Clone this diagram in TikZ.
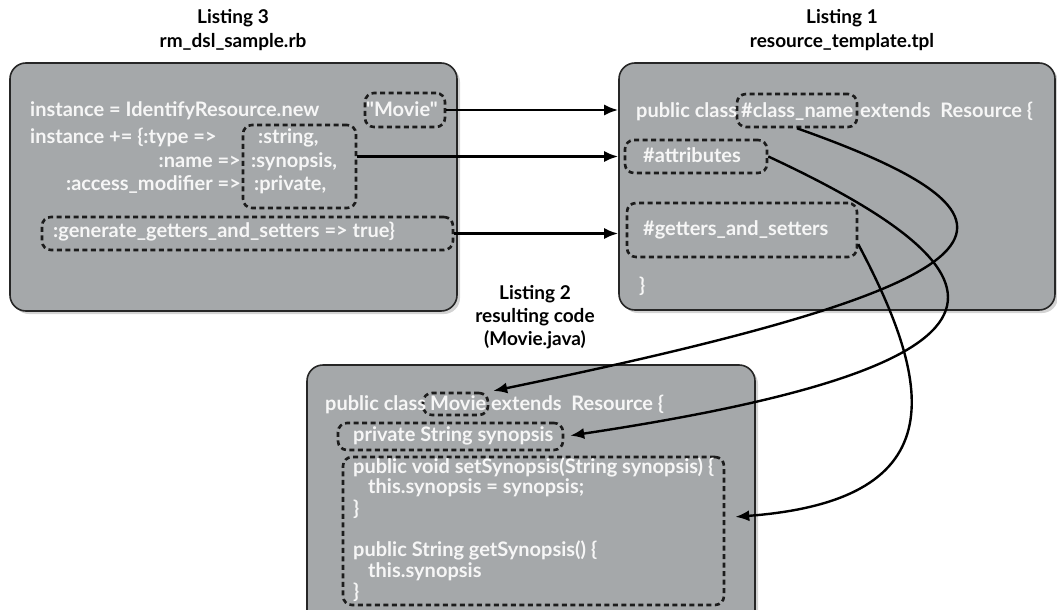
\documentclass[tikz,border=0pt]{standalone}
\usepackage{fontspec}
\setmainfont{Lato}[Ligatures=TeXOff]
\usetikzlibrary{arrows.meta,shadows}
\definecolor{boxgray}{RGB}{165,168,170}
\definecolor{holeline}{RGB}{28,28,28}
\definecolor{codewhite}{RGB}{246,246,246}

\begin{document}
\begin{tikzpicture}[x=1pt,y=-1pt,
  listing/.style={draw=black!85,line width=1.6pt,fill=boxgray,rounded corners=16pt,
    drop shadow={opacity=0.35,shadow xshift=3pt,shadow yshift=-3pt}},
  hole/.style={draw=holeline,line width=2.6pt,dash pattern=on 5pt off 3.5pt,rounded corners=9pt,inner sep=0pt},
  code/.style={text=codewhite,font=\bfseries\fontsize{20}{24}\selectfont,anchor=west,inner sep=0pt,
    text height=14pt,text depth=4pt},
  title/.style={font=\bfseries\fontsize{19}{24}\selectfont,align=center,inner sep=0pt},
  link/.style={line width=2.4pt,-{Latex[length=14pt,width=11pt]}}]
\useasboundingbox (0,0) rectangle (1057,610);

\node[title] (rbtitle) at (233,30) {Listing 3\\rm\_dsl\_sample.rb};
\node[title] (tpltitle) at (842,30) {Listing 1\\resource\_template.tpl};
\node[title,font=\bfseries\fontsize{19}{23}\selectfont] (javatitle) at (535,317) {Listing 2\\resulting code\\(Movie.java)};

\node[listing,minimum width=447pt,minimum height=248pt] (rb) at (233.5,187) {};
\node[listing,minimum width=436pt,minimum height=247pt] (tpl) at (837,186.5) {};
\node[listing,minimum width=448pt,minimum height=270pt] (java) at (531,500) {};

\node[hole,minimum width=80pt,minimum height=34pt] (rbmovie) at (405,110) {};
\node[hole,minimum width=113pt,minimum height=83pt] (rbattr) at (299.5,166.5) {};
\node[hole,minimum width=411pt,minimum height=33pt] (rbgen) at (247.5,233.5) {};
\node[hole,minimum width=120pt,minimum height=33pt] (tplclass) at (797,110.5) {};
\node[hole,minimum width=142pt,minimum height=33pt] (tplattr) at (696,156.5) {};
\node[hole,minimum width=230pt,minimum height=54pt] (tplget) at (742,230) {};
\node[hole,minimum width=65pt,minimum height=22pt] (javamovie) at (455.5,404) {};
\node[hole,minimum width=225pt,minimum height=27pt] (javapriv) at (450.5,436.5) {};
\node[hole,minimum width=381pt,minimum height=148pt] (javameth) at (533.5,531) {};

\node[code] (rb1) at (30,111) {instance = IdentifyResource.new};
\node[code] (rb1b) at (366,111) {"Movie"};
\node[code] (rb2) at (30,138) {instance += \{:type =>};
\node[code] (rb2b) at (258,138) {:string,};
\node[code,anchor=east] (rb3) at (241,162) {:name =>};
\node[code] (rb3b) at (251,162) {:synopsis,};
\node[code,anchor=east] (rb4) at (241,185) {:access\_modifier =>};
\node[code] (rb4b) at (254,185) {:private,};
\node[code] (rb5) at (53,232) {:generate\_getters\_and\_setters => true\}};

\node[code] (tpl1) at (636,112) {public class};
\node[code] (tpl1b) at (741,112) {\#class\_name};
\node[code] (tpl1c) at (860,112) {extends~~Resource \{};
\node[code] (tpl2) at (643,157) {\#attributes};
\node[code] (tpl3) at (643,230) {\#getters\_and\_setters};
\node[code] (tpl4) at (639,287) {\}};

\node[code] (java1) at (325,405) {public class};
\node[code] (java1b) at (430,405) {Movie};
\node[code] (java1c) at (491,405) {extends~~Resource \{};
\node[code] (java2) at (353,436) {private String synopsis};
\node[code] (java3) at (353,468) {public void setSynopsis(String synopsis) \{};
\node[code] (java4) at (368,488) {this.synopsis = synopsis;};
\node[code] (java5) at (353,510) {\}};
\node[code] (java6) at (353,551) {public String getSynopsis() \{};
\node[code] (java7) at (368,572) {this.synopsis};
\node[code] (java8) at (353,593) {\}};

\draw[link] (rbmovie.east) -- (rbmovie.east -| tpl.west);
\draw[link] (rbattr.east |- tplattr.west) -- (tpl.west |- tplattr.west);
\draw[link] (rbgen.east) -- (rbgen.east -| tpl.west);

\draw[link,shorten >=4pt] (tplclass.south) .. controls (1062,222) and (1020,282) .. (javamovie.north east);
\draw[link,shorten >=6pt] (tplattr.east) .. controls (1027,277) and (1040,365) .. (javapriv.east);
\draw[link,shorten >=10pt] (tplget.-7) .. controls (930,380) and (960,500) .. (javameth.4);
\end{tikzpicture}
\end{document}
